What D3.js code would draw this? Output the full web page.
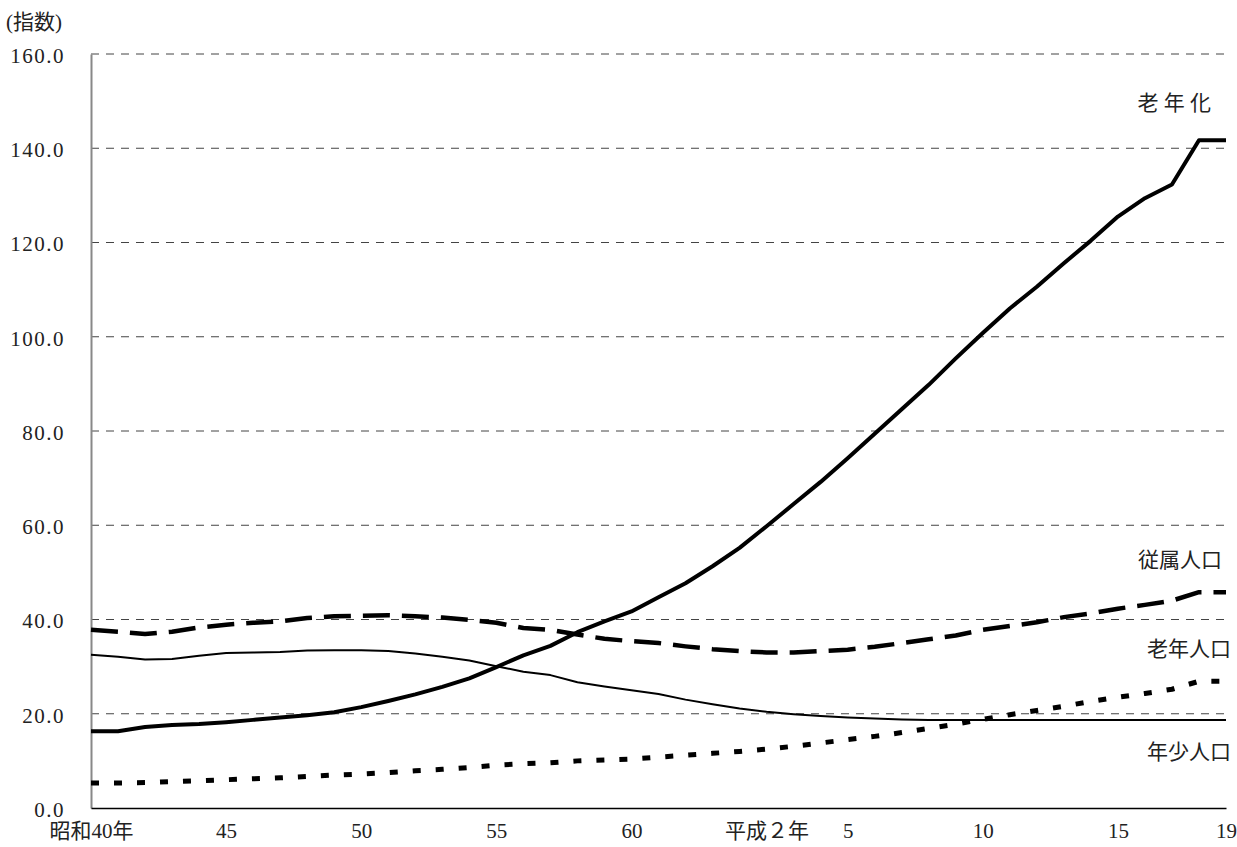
<!DOCTYPE html>
<html>
<head>
<meta charset="utf-8">
<script src="https://cdn.jsdelivr.net/npm/d3@7"></script>
<style>
  body { margin: 0; background: #fff; }
  text { font-family: "Liberation Serif", "Noto Sans CJK JP", serif; fill: #222; }
</style>
</head>
<body>
<div id="chart"></div>
<script>
// years: 昭和40 (1965) .. 平成19 (2007)
var years = d3.range(1965, 2008);

// 年少人口指数
var youthIndex = [32.5, 32.1, 31.5, 31.6, 32.3, 32.9, 33.0, 33.1, 33.4, 33.5, 33.5, 33.3, 32.8, 32.1, 31.3, 30.1,
  28.9, 28.2, 26.7, 25.8, 25.0, 24.2, 23.0, 22.0, 21.1, 20.4, 19.9, 19.5, 19.2, 19.0, 18.8, 18.7,
  18.7, 18.7, 18.7, 18.7, 18.7, 18.7, 18.7, 18.7, 18.7, 18.7, 18.7];

// 老年人口指数
var oldIndex = [5.3, 5.3, 5.4, 5.6, 5.8, 6.0, 6.2, 6.4, 6.7, 7.0, 7.2, 7.5, 7.9, 8.2, 8.6, 9.1,
  9.4, 9.6, 10.0, 10.2, 10.4, 10.8, 11.2, 11.6, 12.0, 12.5, 13.1, 13.8, 14.5, 15.2, 16.0, 16.9,
  17.8, 18.8, 19.8, 20.7, 21.6, 22.6, 23.5, 24.3, 25.2, 26.9, 26.9];

// 従属人口指数
var dependIndex = [37.8, 37.4, 36.9, 37.4, 38.3, 38.9, 39.3, 39.6, 40.3, 40.7, 40.8, 40.9, 40.7, 40.4, 39.9, 39.3,
  38.2, 37.8, 36.8, 35.9, 35.4, 35.0, 34.3, 33.7, 33.3, 33.0, 33.0, 33.3, 33.6, 34.2, 35.0, 35.8,
  36.6, 37.8, 38.6, 39.4, 40.5, 41.3, 42.3, 43.1, 44.0, 45.8, 45.8];

// 老年化指数
var agingIndex = [16.3, 16.3, 17.2, 17.6, 17.8, 18.2, 18.7, 19.2, 19.7, 20.3, 21.4, 22.7, 24.1, 25.7, 27.5, 29.9,
  32.4, 34.4, 37.3, 39.6, 41.7, 44.7, 47.7, 51.3, 55.2, 59.8, 64.5, 69.2, 74.2, 79.4, 84.6, 89.8,
  95.4, 100.8, 106.0, 110.6, 115.6, 120.4, 125.5, 129.4, 132.3, 141.7, 141.7];

// x axis ticks
var xTickYears = [1965, 1970, 1975, 1980, 1985, 1990, 1993, 1998, 2003, 2007];
var xTickLabels = ['昭和40年', '45', '50', '55', '60', '平成２年', '5', '10', '15', '19'];
var yTicks = [0, 20, 40, 60, 80, 100, 120, 140, 160];

var width = 1237, height = 847;
var plot = { left: 91, right: 1226, top: 54, bottom: 808 };

var svg = d3.select('#chart').append('svg')
  .attr('width', width)
  .attr('height', height);

var x = d3.scaleLinear().domain([1965, 2007]).range([plot.left, plot.right]);
var y = d3.scaleLinear().domain([0, 160]).range([plot.bottom, plot.top]);

// dashed gridlines
svg.append('g')
  .selectAll('line')
  .data(yTicks.filter(function (d) { return d > 0; }))
  .enter().append('line')
  .attr('x1', plot.left).attr('x2', plot.right)
  .attr('y1', function (d) { return y(d); })
  .attr('y2', function (d) { return y(d); })
  .attr('stroke', '#444')
  .attr('stroke-width', 1)
  .attr('stroke-dasharray', '8,7');

// y axis
var yAxis = svg.append('g')
  .attr('transform', 'translate(' + plot.left + ',0)')
  .call(d3.axisLeft(y).tickValues(yTicks).tickSize(0).tickPadding(26)
    .tickFormat(function (d) { return d3.format('.1f')(d); }));
yAxis.select('.domain').attr('stroke', '#888').attr('stroke-width', 2);
yAxis.selectAll('text').style('font-size', '21px').style('letter-spacing', '1.5px')
  .attr('dy', '0.4em');

// x axis
var xAxis = svg.append('g')
  .attr('transform', 'translate(0,' + plot.bottom + ')')
  .call(d3.axisBottom(x).tickValues(xTickYears).tickSize(0).tickPadding(15)
    .tickFormat(function (d, i) { return xTickLabels[i]; }));
xAxis.select('.domain').attr('stroke', '#000').attr('stroke-width', 1.5);
xAxis.selectAll('text').style('font-size', '21px');

// lines
var series = [
  { values: youthIndex, width: 2, dash: null },
  { values: oldIndex, width: 5, dash: '8,15' },
  { values: dependIndex, width: 4.5, dash: '27,12' },
  { values: agingIndex, width: 4, dash: null }
];

var line = d3.line()
  .x(function (d) { return x(d[0]); })
  .y(function (d) { return y(d[1]); });

series.forEach(function (s) {
  var pts = years.map(function (yr, i) { return [yr, s.values[i]]; });
  svg.append('path')
    .datum(pts)
    .attr('fill', 'none')
    .attr('stroke', '#000')
    .attr('stroke-width', s.width)
    .attr('stroke-linejoin', 'round')
    .attr('stroke-dasharray', s.dash)
    .attr('d', line);
});

// series labels
var labels = [
  { text: '老 年 化', x: 1211, y: 110 },
  { text: '従属人口', x: 1222, y: 567 },
  { text: '老年人口', x: 1231, y: 656 },
  { text: '年少人口', x: 1231, y: 759 }
];
svg.selectAll('.series-label')
  .data(labels)
  .enter().append('text')
  .attr('class', 'series-label')
  .attr('x', function (d) { return d.x; })
  .attr('y', function (d) { return d.y; })
  .attr('text-anchor', 'end')
  .style('font-size', '21px')
  .text(function (d) { return d.text; });

// unit label
svg.append('text')
  .attr('x', 6)
  .attr('y', 29)
  .style('font-size', '21px')
  .text('(指数)');
</script>
</body>
</html>
